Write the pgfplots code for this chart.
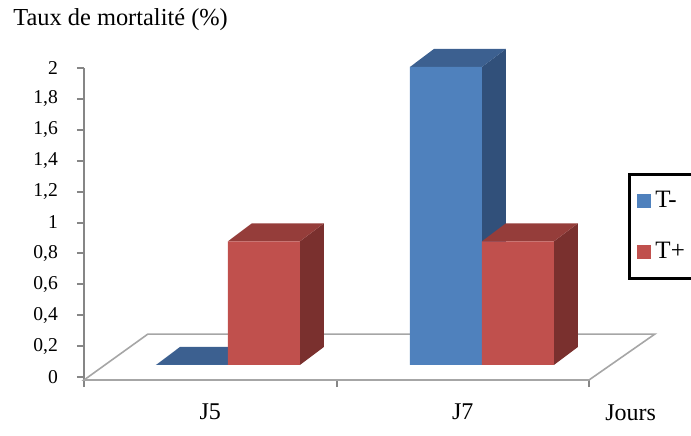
\documentclass[border=0pt]{standalone}
\usepackage{fontspec}
\setmainfont{Liberation Serif}
\usepackage{pgfplots}
\pgfplotsset{compat=1.18}
\definecolor{bfront}{HTML}{4F81BD}
\definecolor{btop}{HTML}{3C6090}
\definecolor{bside}{HTML}{31507A}
\definecolor{rfront}{HTML}{C0504D}
\definecolor{rtop}{HTML}{953D3A}
\definecolor{rside}{HTML}{7A302E}
\definecolor{axgray}{HTML}{868686}
\definecolor{floorgray}{HTML}{A6A6A6}
\pgfplotsset{sqlegend/.style={legend image code/.code={\fill[##1, draw=none] (0pt,-3.5pt) rectangle (7pt,3.5pt);}}}
\begin{document}
\begin{tikzpicture}
\begin{axis}[
  at={(42pt,27.5pt)}, anchor=south west, scale only axis,
  width=252.5pt, height=156pt,
  xmin=0, xmax=2, ymin=-0.0194, ymax=2, clip=false,
  axis x line=bottom, axis y line=left,
  axis line style={-, draw=axgray, line width=1pt},
  xtick={0,1,2}, xticklabels={J5,J7}, x tick label as interval,
  ytick={0,0.2,0.4,0.6,0.8,1,1.2,1.4,1.6,1.8,2},
  tick style={draw=axgray, line width=1pt},
  tick align=outside, major tick length=3.5pt,
  /pgf/number format/use comma,
  /pgf/number format/assume math mode=true,
  yticklabel style={font=\fontsize{9.8}{11}\selectfont, xshift=-6pt},
  xticklabel style={font=\fontsize{12}{14}\selectfont, anchor=base, yshift=-16pt},
  legend style={at={(1.0772,0.6635)}, anchor=north west, draw=black, line width=1.5pt,
    font=\fontsize{12.5}{14}\selectfont, inner xsep=4pt, inner ysep=6.5pt, row sep=11.5pt,
    column 2/.style={text width=30pt}},
  legend cell align=left,
]
\addplot[fill=white, draw=floorgray, line width=0.8pt, forget plot]
  coordinates {(0,-0.0194) (2,-0.0194) (2.261,0.278) (0.253,0.278)} --cycle;
\addlegendimage{sqlegend, fill=bfront}
\addlegendentry{T-}
\addlegendimage{sqlegend, fill=rfront}
\addlegendentry{T+}
\node[anchor=base west, inner sep=0pt, font=\fontsize{12.2}{14}\selectfont]
  at (rel axis cs:-0.1406,1.1353) {Taux de mortalité (\%)};
\node[anchor=base west, inner sep=0pt, font=\fontsize{12}{14}\selectfont]
  at (rel axis cs:1.0317,-0.1282) {Jours};
\end{axis}
\begin{axis}[
  at={(42pt,27.5pt)}, anchor=south west, scale only axis,
  width=252.5pt, height=156pt,
  xmin=0, xmax=2, ymin=-0.1007, ymax=1.993, clip=false, hide axis,
]
% T- (blue) depth faces
\addplot[fill=btop, draw=none] coordinates {(0.285,0) (0.570,0) (0.665,0.121) (0.380,0.121)} --cycle;
\addplot[fill=bside, draw=none] coordinates {(1.576,0) (1.576,2) (1.671,2.121) (1.671,0.121)} --cycle;
\addplot[fill=btop, draw=none] coordinates {(1.291,2) (1.576,2) (1.671,2.121) (1.386,2.121)} --cycle;
% T- front faces
\addplot[ybar, bar width=0.285, bar shift=-0.1425, fill=bfront, draw=none]
  coordinates {(0.570,0) (1.576,2)};
% T+ (red) depth faces and fronts
\addplot[fill=rside, draw=none] coordinates {(0.855,0) (0.855,0.83) (0.950,0.951) (0.950,0.121)} --cycle;
\addplot[fill=rtop, draw=none] coordinates {(0.570,0.83) (0.855,0.83) (0.950,0.951) (0.665,0.951)} --cycle;
\addplot[fill=rside, draw=none] coordinates {(1.861,0) (1.861,0.83) (1.956,0.951) (1.956,0.121)} --cycle;
\addplot[fill=rtop, draw=none] coordinates {(1.576,0.83) (1.861,0.83) (1.956,0.951) (1.671,0.951)} --cycle;
\addplot[ybar, bar width=0.285, bar shift=0.1425, fill=rfront, draw=none]
  coordinates {(0.570,0.83) (1.576,0.83)};
\end{axis}
\pgfresetboundingbox
\path[use as bounding box] (0,0) rectangle (345.5pt,217.5pt);
\end{tikzpicture}
\end{document}
